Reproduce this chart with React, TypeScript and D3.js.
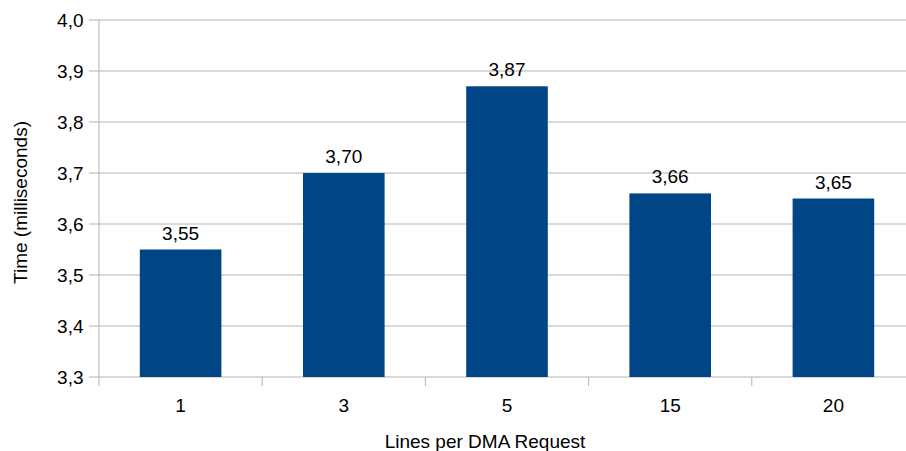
import React from "react";
import * as d3 from "d3";

const categories = ["1", "3", "5", "15", "20"];
const values = [3.55, 3.7, 3.87, 3.66, 3.65];
const yTicks = [3.3, 3.4, 3.5, 3.6, 3.7, 3.8, 3.9, 4.0];

const W = 906;
const H = 451;
const plot = { left: 99, right: 915, top: 20, bottom: 377 };
const font = "'Liberation Sans', Arial, sans-serif";
const fmt = (v: number, d: number) => v.toFixed(d).replace(".", ",");

export default function App() {
  const x = d3.scaleBand<string>().domain(categories).range([plot.left, plot.right]).paddingInner(0.5).paddingOuter(0.25);
  const step = x.step();
  const y = d3.scaleLinear().domain([3.3, 4.0]).range([plot.bottom, plot.top]);
  const grid = "#b3b3b3";

  return (
    <svg width={W} height={H} style={{ position: "absolute", left: 0, top: 0, background: "#fff" }} fontFamily={font}>
      {yTicks.map((t) => (
        <g key={t}>
          <line x1={plot.left - 10} x2={plot.right} y1={y(t)} y2={y(t)} stroke={grid} strokeWidth={1} />
          <text x={83.5} y={y(t)} dy="0.37em" textAnchor="end" fontSize={19} fill="#000">{fmt(t, 1)}</text>
        </g>
      ))}
      <line x1={plot.left} x2={plot.left} y1={plot.top} y2={plot.bottom + 9} stroke={grid} />
      {categories.map((c, i) => (
        <line key={"tk" + c} x1={plot.left + (i + 1) * step} x2={plot.left + (i + 1) * step} y1={plot.bottom} y2={plot.bottom + 9} stroke={grid} />
      ))}
      {categories.map((c, i) => (
        <g key={c}>
          <rect x={x(c)} y={y(values[i])} width={x.bandwidth()} height={plot.bottom - y(values[i])} fill="#004586" />
          <text x={x(c)! + x.bandwidth() / 2} y={y(values[i]) - 10} textAnchor="middle" fontSize={19} fill="#000">{fmt(values[i], 2)}</text>
          <text x={x(c)! + x.bandwidth() / 2} y={412} textAnchor="middle" fontSize={19} fill="#000">{c}</text>
        </g>
      ))}
      <text x={485} y={448} textAnchor="middle" fontSize={19} fill="#000">Lines per DMA Request</text>
      <text transform={`translate(27,${(plot.top + plot.bottom) / 2 + 4}) rotate(-90)`} textAnchor="middle" fontSize={19} fill="#000">Time (milliseconds)</text>
    </svg>
  );
}
